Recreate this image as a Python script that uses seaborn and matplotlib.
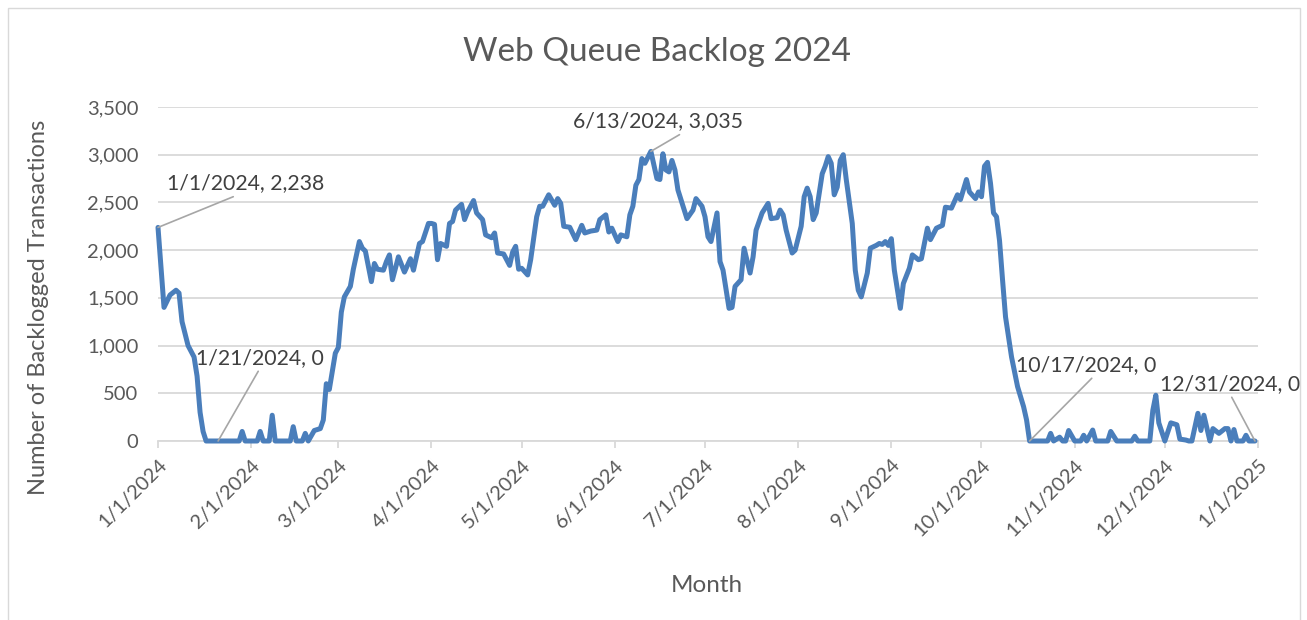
import matplotlib
matplotlib.use("Agg")
import matplotlib.pyplot as plt
import matplotlib.dates as mdates
from matplotlib.patches import Rectangle
from matplotlib.ticker import FuncFormatter, MultipleLocator
import pandas as pd
import seaborn as sns

TITLE = "Web Queue Backlog 2024"
X_LABEL = "Month"
Y_LABEL = "Number of Backlogged Transactions"

# backlog readings (2024)
dates = [
    "01-01", "01-03", "01-05", "01-07", "01-08", "01-09", "01-11", "01-13", "01-14", "01-15",
    "01-16", "01-17", "01-21", "01-28", "01-29", "01-30", "02-03", "02-04", "02-05", "02-07",
    "02-08", "02-09", "02-14", "02-15", "02-16", "02-18", "02-19", "02-20", "02-22", "02-24",
    "02-25", "02-26", "02-27", "02-29", "03-01", "03-02", "03-03", "03-05", "03-06", "03-08",
    "03-09", "03-10", "03-12", "03-13", "03-14", "03-16", "03-17", "03-18", "03-19", "03-21",
    "03-23", "03-25", "03-26", "03-28", "03-29", "03-31", "04-01", "04-02", "04-03", "04-04",
    "04-06", "04-07", "04-08", "04-09", "04-11", "04-12", "04-13", "04-15", "04-16", "04-18",
    "04-19", "04-21", "04-22", "04-23", "04-25", "04-27", "04-28", "04-29", "04-30", "05-01",
    "05-03", "05-04", "05-06", "05-07", "05-08", "05-10", "05-12", "05-13", "05-14", "05-15",
    "05-17", "05-19", "05-21", "05-22", "05-24", "05-26", "05-27", "05-29", "05-30", "05-31",
    "06-02", "06-03", "06-05", "06-06", "06-07", "06-08", "06-09", "06-10", "06-11", "06-13",
    "06-15", "06-16", "06-17", "06-18", "06-19", "06-20", "06-21", "06-22", "06-25", "06-27",
    "06-28", "06-30", "07-01", "07-02", "07-03", "07-05", "07-06", "07-07", "07-09", "07-10",
    "07-11", "07-13", "07-14", "07-16", "07-17", "07-18", "07-20", "07-22", "07-23", "07-25",
    "07-26", "07-27", "07-28", "07-30", "07-31", "08-02", "08-03", "08-04", "08-05", "08-06",
    "08-07", "08-09", "08-10", "08-11", "08-12", "08-13", "08-14", "08-15", "08-16", "08-17",
    "08-19", "08-20", "08-21", "08-22", "08-24", "08-25", "08-27", "08-28", "08-29", "08-30",
    "08-31", "09-01", "09-02", "09-04", "09-05", "09-07", "09-08", "09-10", "09-11", "09-13",
    "09-14", "09-16", "09-18", "09-19", "09-21", "09-23", "09-24", "09-26", "09-27", "09-29",
    "09-30", "10-01", "10-02", "10-03", "10-04", "10-05", "10-06", "10-07", "10-08", "10-09",
    "10-11", "10-13", "10-15", "10-16", "10-17", "10-23", "10-24", "10-25", "10-27", "10-28",
    "10-29", "10-30", "11-01", "11-03", "11-04", "11-05", "11-07", "11-08", "11-12", "11-13",
    "11-15", "11-20", "11-21", "11-22", "11-26", "11-27", "11-28", "11-29", "12-01", "12-03",
    "12-05", "12-06", "12-08", "12-09", "12-10", "12-12", "12-13", "12-14", "12-16", "12-17",
    "12-19", "12-21", "12-22", "12-23", "12-24", "12-25", "12-27", "12-28", "12-29", "12-31",
]
backlog = [
    2238, 1400, 1530, 1580, 1550, 1250, 1000, 880, 680, 300,
    100, 0, 0, 0, 100, 0, 0, 100, 0, 0,
    270, 0, 0, 150, 0, 0, 80, 0, 110, 130,
    220, 600, 540, 920, 980, 1350, 1510, 1620, 1800, 2090,
    2020, 1990, 1670, 1860, 1800, 1790, 1880, 1950, 1690, 1930,
    1770, 1910, 1790, 2070, 2090, 2280, 2280, 2270, 1900, 2070,
    2040, 2280, 2300, 2420, 2480, 2320, 2400, 2520, 2390, 2320,
    2160, 2130, 2180, 1970, 1960, 1840, 1980, 2040, 1800, 1810,
    1740, 1900, 2350, 2460, 2460, 2580, 2470, 2540, 2490, 2250,
    2240, 2110, 2260, 2180, 2200, 2210, 2320, 2370, 2190, 2230,
    2090, 2160, 2140, 2370, 2460, 2680, 2740, 2960, 2910, 3035,
    2750, 2740, 3010, 2840, 2820, 2940, 2840, 2630, 2330, 2420,
    2540, 2460, 2350, 2140, 2090, 2390, 1880, 1790, 1390, 1400,
    1620, 1690, 2020, 1760, 1930, 2210, 2390, 2490, 2330, 2340,
    2420, 2370, 2210, 1970, 2000, 2250, 2560, 2650, 2560, 2320,
    2390, 2800, 2880, 2980, 2910, 2580, 2660, 2940, 3000, 2740,
    2280, 1790, 1580, 1510, 1760, 2020, 2050, 2070, 2060, 2090,
    2050, 2120, 1790, 1390, 1650, 1810, 1950, 1900, 1910, 2230,
    2110, 2230, 2260, 2450, 2440, 2580, 2530, 2740, 2610, 2540,
    2610, 2560, 2880, 2920, 2700, 2390, 2350, 2100, 1690, 1300,
    880, 570, 360, 220, 0, 0, 80, 0, 40, 0,
    0, 110, 0, 0, 60, 0, 115, 0, 0, 100,
    0, 0, 50, 0, 0, 320, 480, 190, 0, 190,
    170, 20, 10, 0, 0, 290, 110, 270, 0, 130,
    80, 130, 130, 0, 120, 0, 0, 60, 0, 0,
]

# data labels shown on the chart
label_dates = ["01-01", "01-21", "06-13", "10-17", "12-31"]

df = pd.DataFrame({"date": pd.to_datetime(["2024-" + d for d in dates]), "backlog": backlog})

sns.set_theme(style="white")
plt.rcParams["font.family"] = ["Lato", "DejaVu Sans"]

TEXT = "#595959"
GRID = "#D9D9D9"
LINE = "#4A7EBB"

fig = plt.figure(figsize=(13.07, 6.2), dpi=100)
ax = fig.add_axes([158 / 1307, 1 - 441 / 620, 1100 / 1307, 334 / 620])

sns.lineplot(data=df, x="date", y="backlog", ax=ax, color=LINE, linewidth=3.6, clip_on=False, zorder=3)

ax.set_xlim(pd.Timestamp("2024-01-01"), pd.Timestamp("2025-01-01"))
ax.set_ylim(0, 3500)
ax.yaxis.set_major_locator(MultipleLocator(500))
ax.yaxis.set_major_formatter(FuncFormatter(lambda v, p: f"{int(v):,}"))
ax.xaxis.set_major_locator(mdates.MonthLocator())
ax.xaxis.set_major_formatter(FuncFormatter(
    lambda v, p: f"{mdates.num2date(v).month}/{mdates.num2date(v).day}/{mdates.num2date(v).year}"))

ax.grid(axis="y", color=GRID, linewidth=1.3)
ax.grid(axis="x", visible=False)
for side in ["top", "right", "left"]:
    ax.spines[side].set_visible(False)
ax.spines["bottom"].set_color(GRID)
ax.spines["bottom"].set_linewidth(1.3)

ax.tick_params(axis="y", length=0, pad=14, labelsize=14.5, labelcolor=TEXT)
ax.tick_params(axis="x", length=5, width=1.3, color=GRID, pad=6, labelsize=14.5, labelcolor=TEXT,
               bottom=True)
for lbl in ax.get_xticklabels():
    lbl.set_rotation(45)
    lbl.set_ha("right")
    lbl.set_va("top")
    lbl.set_rotation_mode("anchor")

ax.set_xlabel(X_LABEL, fontsize=17.5, color=TEXT)
ax.xaxis.set_label_coords(0.499, -0.40)
ax.set_ylabel(Y_LABEL, fontsize=17, color=TEXT)
ax.yaxis.set_label_coords(-0.099, 0.40)

fig.text(657 / 1307, 1 - 52 / 620, TITLE, ha="center", va="center", fontsize=24, color=TEXT)

# data label placement: (offset px, leader attach point on text box)
offsets = {
    "01-01": ((88, 44), (0.47, 0.0)),
    "01-21": ((42, 83), (0.5, 0.0)),
    "06-13": ((7, 30), (0.66, 0.0)),
    "10-17": ((57, 76), (0.56, 0.0)),
    "12-31": ((-25, 57), (0.5, 0.0)),
}
for d in label_dates:
    ts = pd.Timestamp("2024-" + d)
    val = df.loc[df["date"] == ts, "backlog"].iloc[0]
    off, rel = offsets[d]
    ax.annotate(f"{ts.month}/{ts.day}/{ts.year}, {val:,}", xy=(ts, val), xytext=off,
                textcoords="offset pixels", ha="center", va="center", fontsize=15.3,
                color="#404040", zorder=5, annotation_clip=False,
                arrowprops=dict(arrowstyle="-", color="#A6A6A6", lw=1.2, relpos=rel,
                                shrinkA=0, shrinkB=0))

fig.patches.append(Rectangle((8 / 1307, -0.02), 1292 / 1307, 1.02 - 8 / 620,
                             transform=fig.transFigure, fill=False, edgecolor=GRID, linewidth=1))

fig.savefig("out.png", dpi=100)
